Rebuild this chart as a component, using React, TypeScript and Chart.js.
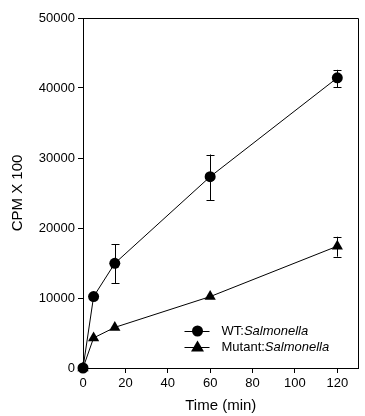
import React, { useEffect, useRef } from "react";
import { Chart, registerables } from "chart.js";

Chart.register(...registerables);

const timePoints = [0, 5, 15, 60, 120];
const wtValues = [0, 10200, 14950, 27330, 41450];
const wtErrLow = [0, 10200, 12100, 24000, 40100];
const wtErrHigh = [0, 10200, 17650, 30500, 42600];
const mutantValues = [0, 4300, 5800, 10200, 17400];
const mutantErrLow = [0, 4300, 5800, 10200, 15900];
const mutantErrHigh = [0, 4300, 5800, 10200, 18750];
const seriesNames = ["WT", "Mutant"];
const organism = "Salmonella";
const xTicks = [0, 20, 40, 60, 80, 100, 120];
const yTicks = [0, 10000, 20000, 30000, 40000, 50000];

const FONT = "'Liberation Sans', Arial, sans-serif";

const errorBarPlugin = {
  id: "errorBars",
  afterDatasetsDraw(chart: any) {
    const ctx = chart.ctx;
    const x = chart.scales.x;
    const y = chart.scales.y;
    const sets = [
      [wtErrLow, wtErrHigh],
      [mutantErrLow, mutantErrHigh],
    ];
    ctx.save();
    ctx.strokeStyle = "#000";
    ctx.lineWidth = 1;
    sets.forEach(([lo, hi]) => {
      timePoints.forEach((t, i) => {
        if (hi[i] === lo[i]) return;
        const px = Math.round(x.getPixelForValue(t)) + 0.5;
        const top = y.getPixelForValue(hi[i]);
        const bot = y.getPixelForValue(lo[i]);
        ctx.beginPath();
        ctx.moveTo(px, top);
        ctx.lineTo(px, bot);
        ctx.moveTo(px - 4, Math.round(top) + 0.5);
        ctx.lineTo(px + 4, Math.round(top) + 0.5);
        ctx.moveTo(px - 4, Math.round(bot) + 0.5);
        ctx.lineTo(px + 4, Math.round(bot) + 0.5);
        ctx.stroke();
      });
    });
    ctx.restore();
  },
};

const frameLegendPlugin = {
  id: "frameLegend",
  afterDraw(chart: any) {
    const ctx = chart.ctx;
    const a = chart.chartArea;
    ctx.save();
    ctx.strokeStyle = "#000";
    ctx.lineWidth = 1;
    ctx.beginPath();
    ctx.moveTo(Math.round(a.left) + 0.5, Math.round(a.top) + 0.5);
    ctx.lineTo(Math.round(a.right) - 0.5, Math.round(a.top) + 0.5);
    ctx.lineTo(Math.round(a.right) - 0.5, Math.round(a.bottom) + 0.5);
    ctx.stroke();

    // legend
    const lx = a.right - 174;
    const rows = [a.bottom - 37, a.bottom - 21];
    const styles = ["circle", "triangle"];
    rows.forEach((ry, i) => {
      ctx.beginPath();
      ctx.moveTo(lx, Math.round(ry) + 0.5);
      ctx.lineTo(lx + 25, Math.round(ry) + 0.5);
      ctx.stroke();
      ctx.fillStyle = "#000";
      const cx = lx + 13;
      if (styles[i] === "circle") {
        ctx.beginPath();
        ctx.arc(cx, ry, 5.5, 0, Math.PI * 2);
        ctx.fill();
      } else {
        ctx.beginPath();
        ctx.moveTo(cx, ry - 6.5);
        ctx.lineTo(cx + 6.5, ry + 4.5);
        ctx.lineTo(cx - 6.5, ry + 4.5);
        ctx.closePath();
        ctx.fill();
      }
      ctx.textBaseline = "middle";
      ctx.textAlign = "left";
      ctx.font = `13px ${FONT}`;
      const prefix = seriesNames[i] + ":";
      const tx = lx + 37;
      ctx.fillText(prefix, tx, ry);
      const w = ctx.measureText(prefix).width;
      ctx.font = `italic 13px ${FONT}`;
      ctx.fillText(organism, tx + w, ry);
    });
    ctx.restore();
  },
};

export default function App() {
  const ref = useRef<HTMLCanvasElement>(null);
  useEffect(() => {
    if (!ref.current) return;
    const chart = new Chart(ref.current, {
      type: "scatter",
      data: {
        datasets: [
          {
            label: seriesNames[0],
            data: timePoints.map((t, i) => ({ x: t, y: wtValues[i] })),
            showLine: true,
            borderColor: "#000",
            backgroundColor: "#000",
            borderWidth: 1,
            pointStyle: "circle",
            pointRadius: 5.5,
            pointBorderWidth: 0,
            clip: false,
          },
          {
            label: seriesNames[1],
            data: timePoints.map((t, i) => ({ x: t, y: mutantValues[i] })),
            showLine: true,
            borderColor: "#000",
            backgroundColor: "#000",
            borderWidth: 1,
            pointStyle: "triangle",
            pointRadius: 6.5,
            pointBorderWidth: 0,
            clip: false,
          },
        ],
      },
      options: {
        animation: false,
        responsive: false,
        maintainAspectRatio: false,
        layout: { padding: { top: 18, right: 1, left: 0, bottom: 0 } },
        plugins: { legend: { display: false }, tooltip: { enabled: false } },
        scales: {
          x: {
            type: "linear",
            min: 0,
            max: 130,
            afterBuildTicks: (s: any) => {
              s.ticks = xTicks.map((v) => ({ value: v }));
            },
            afterFit: (s: any) => {
              s.height = 48;
            },
            grid: { drawOnChartArea: false, drawTicks: true, tickLength: 5, color: "#000" },
            border: { display: true, color: "#000", width: 1 },
            ticks: { color: "#000", font: { family: FONT, size: 13 }, padding: 3, maxRotation: 0 },
            title: {
              display: true,
              text: "Time (min)",
              color: "#000",
              font: { family: FONT, size: 15 },
              padding: { top: 0, bottom: 1 },
            },
          },
          y: {
            type: "linear",
            min: 0,
            max: 50000,
            afterBuildTicks: (s: any) => {
              s.ticks = yTicks.map((v) => ({ value: v }));
            },
            afterFit: (s: any) => {
              s.width = 83;
            },
            grid: { drawOnChartArea: false, drawTicks: true, tickLength: 5, color: "#000" },
            border: { display: true, color: "#000", width: 1 },
            ticks: {
              color: "#000",
              font: { family: FONT, size: 13 },
              padding: 3,
              callback: (v: any) => String(v),
            },
            title: {
              display: true,
              text: "CPM X 100",
              color: "#000",
              font: { family: FONT, size: 15 },
              padding: { top: 9, bottom: 0 },
            },
          },
        },
      },
      plugins: [errorBarPlugin, frameLegendPlugin],
    } as any);
    return () => chart.destroy();
  }, []);
  return (
    <div style={{ position: "fixed", left: 0, top: 0, width: 365, height: 416, background: "#fff" }}>
      <canvas ref={ref} width={365} height={416} style={{ width: 365, height: 416 }} />
    </div>
  );
}
